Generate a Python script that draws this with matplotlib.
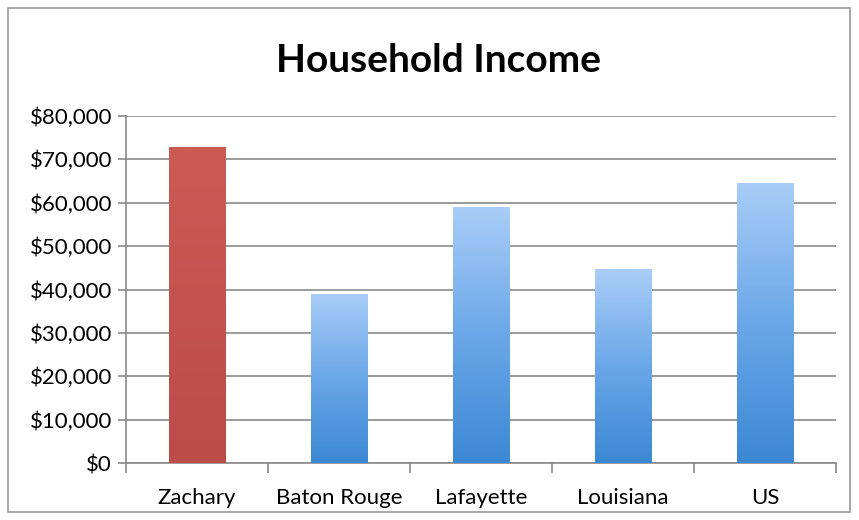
import numpy as np
import matplotlib.pyplot as plt
from matplotlib.colors import LinearSegmentedColormap
from matplotlib.patches import Rectangle
from matplotlib.ticker import FuncFormatter, FixedLocator

places = ['Zachary', 'Baton Rouge', 'Lafayette', 'Louisiana', 'US']
income = [72800, 39000, 59000, 44700, 64600]
highlight = ['Zachary']

plt.rcParams['font.family'] = ['Lato', 'DejaVu Sans']

fig = plt.figure(figsize=(8.59, 5.20), dpi=100)
ax = fig.add_axes([126/859, 1 - 463/520, 710/859, 347/520])

# frame round the whole chart
fig.patches.append(Rectangle((8/859, 8/520), 842/859, 504/520, transform=fig.transFigure,
                             fill=False, edgecolor='#9a9a9a', linewidth=1.2))

blue = LinearSegmentedColormap.from_list('blue', ['#3c88d4', '#6aa7e8', '#a9cdf7'])
red = LinearSegmentedColormap.from_list('red', ['#bb4c48', '#c4534f', '#cc5a55'])
grad = np.linspace(0, 1, 256).reshape(-1, 1)

x = np.arange(len(places))
bars = ax.bar(x, income, width=0.4, color='none', zorder=3)
for b, name in zip(bars, places):
    cmap = red if name in highlight else blue
    im = ax.imshow(grad, cmap=cmap, origin='lower', aspect='auto', zorder=3,
                   extent=[b.get_x(), b.get_x() + b.get_width(), 0, b.get_height()])
    im.set_clip_path(b)

ax.set_xlim(-0.5, len(places) - 0.5)
ax.set_ylim(0, 80000)
ax.set_yticks(np.arange(0, 80001, 10000))
ax.yaxis.set_major_formatter(FuncFormatter(lambda v, p: f'${v:,.0f}'))
ax.set_xticks(x)
ax.set_xticklabels(places)
ax.xaxis.set_minor_locator(FixedLocator(np.arange(-0.5, len(places), 1)))

ax.grid(axis='y', color='#8a8a8a', linewidth=1.2, zorder=0)
for s in ['top', 'right']:
    ax.spines[s].set_visible(False)
for s in ['left', 'bottom']:
    ax.spines[s].set_color('#8a8a8a')
    ax.spines[s].set_linewidth(1.2)

ax.tick_params(axis='y', length=6, color='#8a8a8a', width=1.2, labelsize=16, pad=4)
ax.tick_params(axis='x', which='major', length=0, labelsize=16, pad=18)
ax.tick_params(axis='x', which='minor', length=7, color='#8a8a8a', width=1.2)

fig.text(438/859, 1 - 60/520, 'Household Income', ha='center', va='center',
         fontsize=28, fontweight='bold')

fig.savefig('out.png', dpi=100)
